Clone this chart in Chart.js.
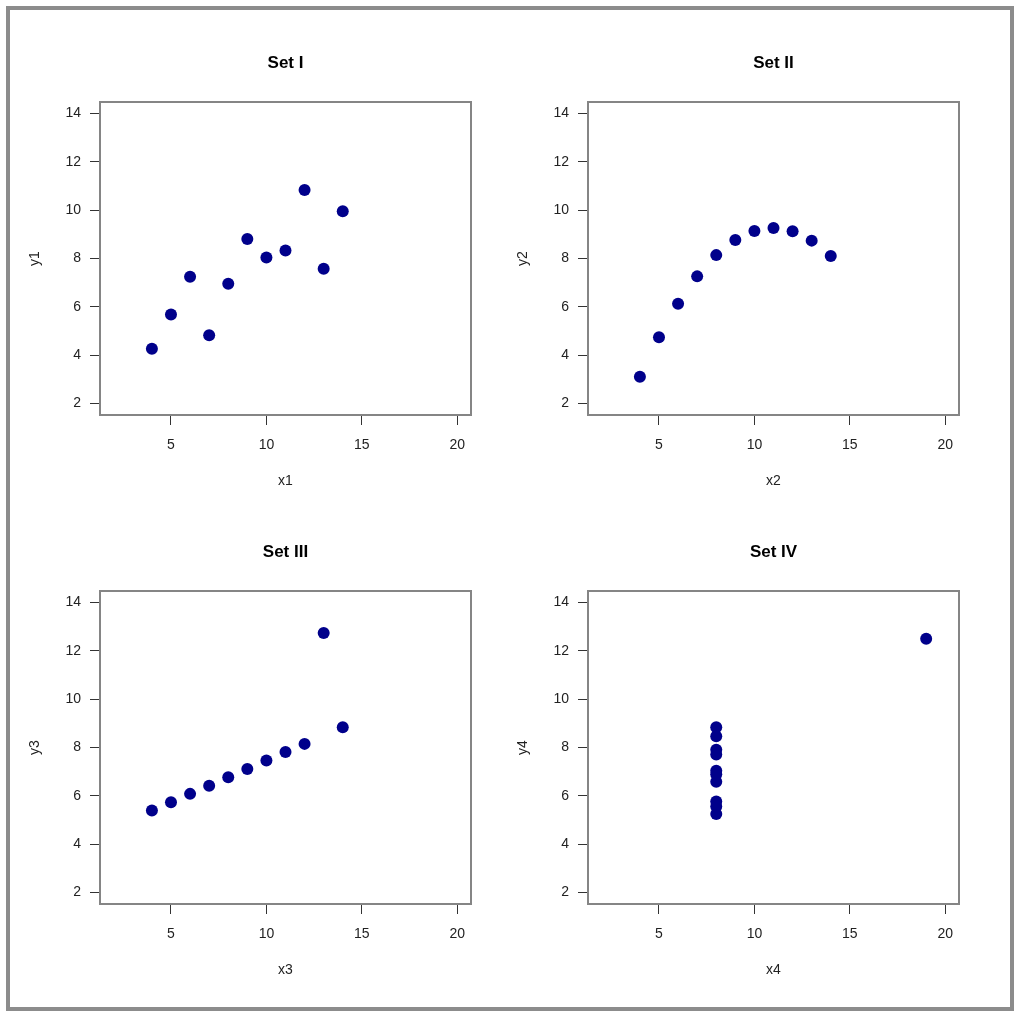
<!DOCTYPE html>
<html>
<head>
<meta charset="utf-8">
<script src="https://cdn.jsdelivr.net/npm/chart.js@4"></script>
<style>
  html, body { margin: 0; padding: 0; background: #fff; }
  body { width: 1024px; height: 1022px; position: relative; overflow: hidden; }
  #frame { position: absolute; left: 6px; top: 6px; width: 1008px; height: 1005px; box-sizing: border-box; border: 4px solid #8c8c8c; }
  canvas { position: absolute; }
</style>
</head>
<body>
<div id="frame"></div>
<canvas id="c1" width="490" height="490" style="left:10px;top:10px"></canvas>
<canvas id="c2" width="490" height="490" style="left:498px;top:10px"></canvas>
<canvas id="c3" width="490" height="490" style="left:10px;top:499px"></canvas>
<canvas id="c4" width="490" height="490" style="left:498px;top:499px"></canvas>
<script>
// ---- data (Anscombe's quartet) ----
const setTitles = ['Set I', 'Set II', 'Set III', 'Set IV'];
const xTitles = ['x1', 'x2', 'x3', 'x4'];
const yTitles = ['y1', 'y2', 'y3', 'y4'];
const x1 = [10, 8, 13, 9, 11, 14, 6, 4, 12, 7, 5];
const y1 = [8.04, 6.95, 7.58, 8.81, 8.33, 9.96, 7.24, 4.26, 10.84, 4.82, 5.68];
const x2 = [10, 8, 13, 9, 11, 14, 6, 4, 12, 7, 5];
const y2 = [9.14, 8.14, 8.74, 8.77, 9.26, 8.10, 6.13, 3.10, 9.13, 7.26, 4.74];
const x3 = [10, 8, 13, 9, 11, 14, 6, 4, 12, 7, 5];
const y3 = [7.46, 6.77, 12.74, 7.11, 7.81, 8.84, 6.08, 5.39, 8.15, 6.42, 5.73];
const x4 = [8, 8, 8, 8, 8, 8, 8, 19, 8, 8, 8];
const y4 = [6.58, 5.76, 7.71, 8.84, 8.47, 7.04, 5.25, 12.50, 5.56, 7.91, 6.89];
const xTicks = [5, 10, 15, 20];
const yTicks = [2, 4, 6, 8, 10, 12, 14];
const xRange = [1.28, 20.72];
const yRange = [1.52, 14.48];

const xsAll = [x1, x2, x3, x4];
const ysAll = [y1, y2, y3, y4];

Chart.defaults.font.family = '"Liberation Sans", Arial, Helvetica, sans-serif';
Chart.defaults.color = '#222';

const boxPlugin = {
  id: 'box',
  beforeDatasetsDraw(chart) {
    const a = chart.chartArea, ctx = chart.ctx;
    ctx.save();
    ctx.strokeStyle = '#858585';
    ctx.lineWidth = 2;
    ctx.strokeRect(a.left, a.top, a.right - a.left, a.bottom - a.top);
    ctx.restore();
  }
};

function makePanel(id, i) {
  const pts = xsAll[i].map((x, k) => ({ x: x, y: ysAll[i][k] }));
  const gridOpts = { display: true, drawOnChartArea: false, drawTicks: true, tickLength: 10, color: '#333', lineWidth: 1 };
  new Chart(document.getElementById(id), {
    type: 'scatter',
    data: {
      datasets: [{
        data: pts,
        backgroundColor: '#00008b',
        borderColor: '#00008b',
        borderWidth: 0,
        pointRadius: 6,
        pointHoverRadius: 6
      }]
    },
    options: {
      responsive: false,
      animation: false,
      devicePixelRatio: 1,
      events: [],
      layout: { padding: { left: 0, right: 29, top: 0, bottom: 0 } },
      plugins: {
        legend: { display: false },
        tooltip: { enabled: false },
        title: {
          display: true,
          text: setTitles[i],
          fullSize: false,
          color: '#000',
          font: { size: 17, weight: 'bold' },
          padding: { top: 43, bottom: 28.6 }
        }
      },
      scales: {
        x: {
          type: 'linear',
          min: xRange[0], max: xRange[1],
          grid: gridOpts,
          border: { display: false },
          ticks: { padding: 12, font: { size: 14 }, color: '#222', maxRotation: 0 },
          title: { display: true, text: xTitles[i], font: { size: 14 }, color: '#222', padding: 10.6 },
          afterBuildTicks(s) { s.ticks = xTicks.map(v => ({ value: v })); },
          afterFit(s) { s.height = 85; }
        },
        y: {
          type: 'linear',
          min: yRange[0], max: yRange[1],
          grid: gridOpts,
          border: { display: false },
          ticks: { padding: 9, font: { size: 14 }, color: '#222' },
          title: { display: true, text: yTitles[i], font: { size: 14 }, color: '#222', padding: 17 },
          afterBuildTicks(s) { s.ticks = yTicks.map(v => ({ value: v })); },
          afterFit(s) { s.width = 90; }
        }
      }
    },
    plugins: [boxPlugin]
  });
}

makePanel('c1', 0);
makePanel('c2', 1);
makePanel('c3', 2);
makePanel('c4', 3);
</script>
</body>
</html>
